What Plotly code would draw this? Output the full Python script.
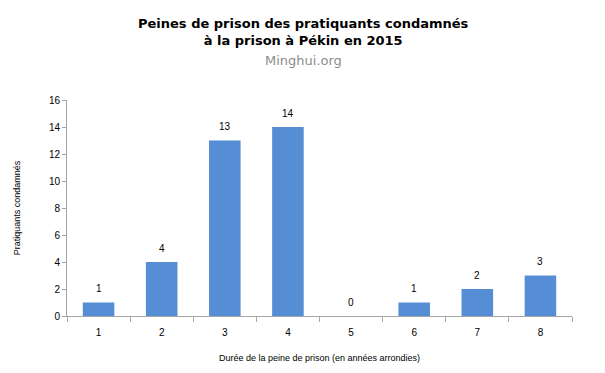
import plotly.graph_objects as go

categories = ["1", "2", "3", "4", "5", "6", "7", "8"]
values = [1, 4, 13, 14, 0, 1, 2, 3]
y_ticks = [0, 2, 4, 6, 8, 10, 12, 14, 16]

fig = go.Figure(go.Bar(
    x=categories, y=values,
    marker=dict(color="#558ed5", line=dict(width=0)),
    hoverinfo="x+y",
))

labels = [dict(x=i, y=v, xref="x", yref="y", text=str(v), showarrow=False,
               yanchor="middle", yshift=14,
               font=dict(family="Liberation Sans, Arial", size=10, color="#000"))
          for i, v in enumerate(values)]

L, R, T, B = 67, 33, 100, 57
W, H = 605, 373
page_x = (303 - L) / (W - L - R)

fig.update_layout(
    width=W, height=H,
    margin=dict(l=L, r=R, t=T, b=B),
    paper_bgcolor="white", plot_bgcolor="white",
    bargap=0.5,
    showlegend=False,
    font=dict(family="Liberation Sans, Arial", size=10, color="#000"),
    annotations=labels + [
        dict(text="<b>Peines de prison des pratiquants condamnés<br>à la prison à Pékin en 2015</b>",
             x=page_x, xref="paper", y=1, yref="paper",
             xanchor="center", yanchor="top", yshift=86, showarrow=False, align="center",
             font=dict(family="DejaVu Sans", size=13, color="#000")),
        dict(text="Minghui.org", x=page_x, xref="paper", y=1, yref="paper",
             xanchor="center", yanchor="top", yshift=49, showarrow=False,
             font=dict(family="DejaVu Sans", size=13, color="#8c8c8c")),
    ],
)

fig.update_xaxes(
    type="category", showline=True, linecolor="#a6a6a6", linewidth=1,
    ticks="outside", tickson="boundaries", ticklen=5, tickcolor="#a6a6a6",
    showgrid=False, automargin=False, ticklabelstandoff=7,
    title=dict(text="Durée de la peine de prison (en années arrondies)",
               font=dict(size=9), standoff=17),
    tickfont=dict(size=10),
)
fig.update_yaxes(
    range=[0, 16], tickvals=y_ticks, showline=True, linecolor="#a6a6a6", linewidth=1,
    ticks="outside", ticklen=4, tickcolor="#a6a6a6", showgrid=False, zeroline=False,
    automargin=False,
    title=dict(text="Pratiquants condamnés", font=dict(size=9), standoff=26),
    tickfont=dict(size=10),
)

fig.write_html("out.html", post_script="document.body.style.margin='0';",
               config=dict(displayModeBar=False))
